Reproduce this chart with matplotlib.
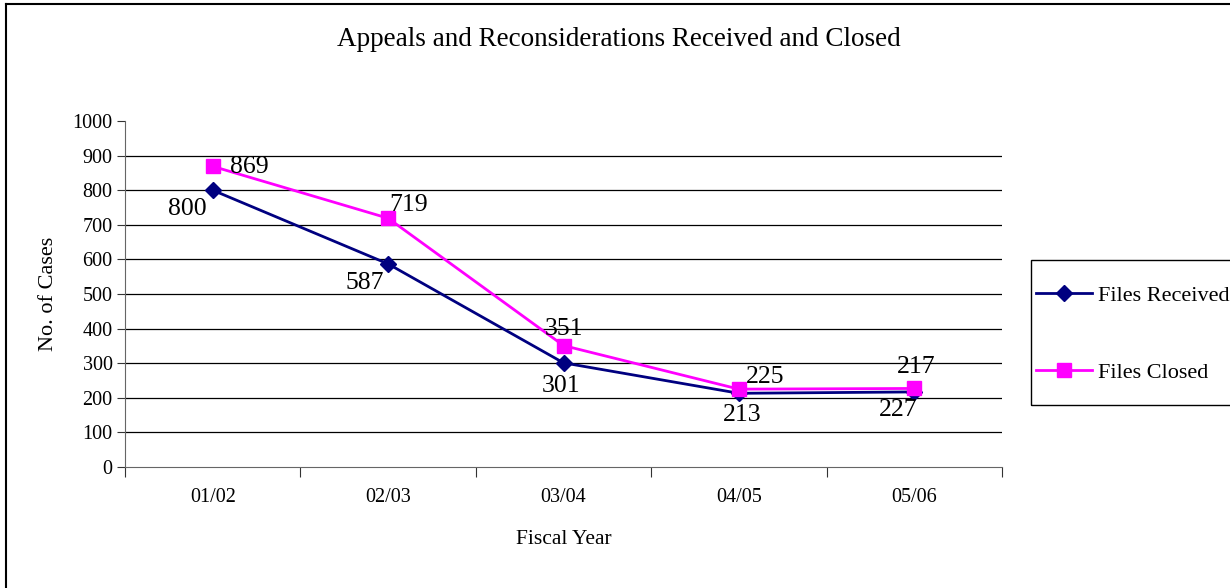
import matplotlib
matplotlib.use("Agg")
import matplotlib.pyplot as plt
from matplotlib.lines import Line2D
from matplotlib.patches import Rectangle

plt.rcParams['font.family'] = ['Liberation Serif', 'DejaVu Serif']

years = ['01/02', '02/03', '03/04', '04/05', '05/06']
received = [800, 587, 301, 213, 217]
closed = [869, 719, 351, 225, 227]
# labels as printed on the original chart (last pair appears swapped there)
received_labels = ['800', '587', '301', '213', '227']
closed_labels = ['869', '719', '351', '225', '217']

NAVY = '#000080'
MAGENTA = '#FF00FF'

fig = plt.figure(figsize=(12.3, 5.88), dpi=100)
ax = fig.add_axes([125 / 1230, 1 - 467 / 588, 877 / 1230, 346 / 588])

x = [i + 0.5 for i in range(len(years))]
ax.plot(x, received, color=NAVY, marker='D', markersize=8, linewidth=2, label='Files Received')
ax.plot(x, closed, color=MAGENTA, marker='s', markersize=10, linewidth=2, label='Files Closed')

ax.set_xlim(0, len(years))
ax.set_ylim(0, 1000)
ax.set_yticks(range(0, 1001, 100))
ax.set_xticks(range(0, len(years) + 1))
ax.set_xticklabels([])
ax.set_xticks(x, minor=True)
ax.set_xticklabels(years, minor=True)
ax.tick_params(axis='x', which='minor', length=0, pad=15, labelsize=14.5)
ax.tick_params(axis='x', which='major', length=7, direction='out', color='#333333')
ax.tick_params(axis='y', length=6, direction='out', color='#333333', labelsize=14.5, pad=3)

for v in range(100, 1000, 100):
    ax.axhline(v, color='black', linewidth=0.9, zorder=0)

ax.spines['top'].set_visible(False)
ax.spines['right'].set_visible(False)
ax.spines['left'].set_color('#666666')
ax.spines['bottom'].set_color('#666666')

# data labels
recv_off = [(-25, -19), (-23, -19), (-2, -23), (3, -22), (-16, -18)]
clos_off = [(37, -1), (20, 13), (0, 17), (26, 12), (2, 21)]
for xi, v, lab, off in zip(x, received, received_labels, recv_off):
    ax.annotate(lab, (xi, v), xytext=off, textcoords='offset pixels',
                ha='center', va='center', fontsize=18.5)
for xi, v, lab, off in zip(x, closed, closed_labels, clos_off):
    ax.annotate(lab, (xi, v), xytext=off, textcoords='offset pixels',
                ha='center', va='center', fontsize=18.5)

ax.set_xlabel('Fiscal Year', fontsize=15.5, labelpad=17)
ax.set_ylabel('No. of Cases', fontsize=16, labelpad=10)
fig.text(619 / 1230, 1 - 40 / 588, 'Appeals and Reconsiderations Received and Closed',
         ha='center', va='center', fontsize=19.5)

leg = fig.legend(loc='upper left', bbox_to_anchor=(1036 / 1230, 1 - 285 / 588),
                 fontsize=16, frameon=False, handlelength=2.5, handletextpad=0.27,
                 labelspacing=2.55, borderpad=0, borderaxespad=0)

# legend box, figure border (left and top only, like the original)
fig.patches.append(Rectangle((1031 / 1230, 1 - 405 / 588), 220 / 1230, 145 / 588,
                             transform=fig.transFigure, fill=False,
                             edgecolor='black', linewidth=1.0))
fig.lines.append(Line2D([6 / 1230, 6 / 1230], [0, 1 - 4 / 588], transform=fig.transFigure,
                        color='black', linewidth=1.5))
fig.lines.append(Line2D([6 / 1230, 1], [1 - 4 / 588, 1 - 4 / 588], transform=fig.transFigure,
                        color='black', linewidth=1.5))

fig.savefig('out.png', dpi=100)
